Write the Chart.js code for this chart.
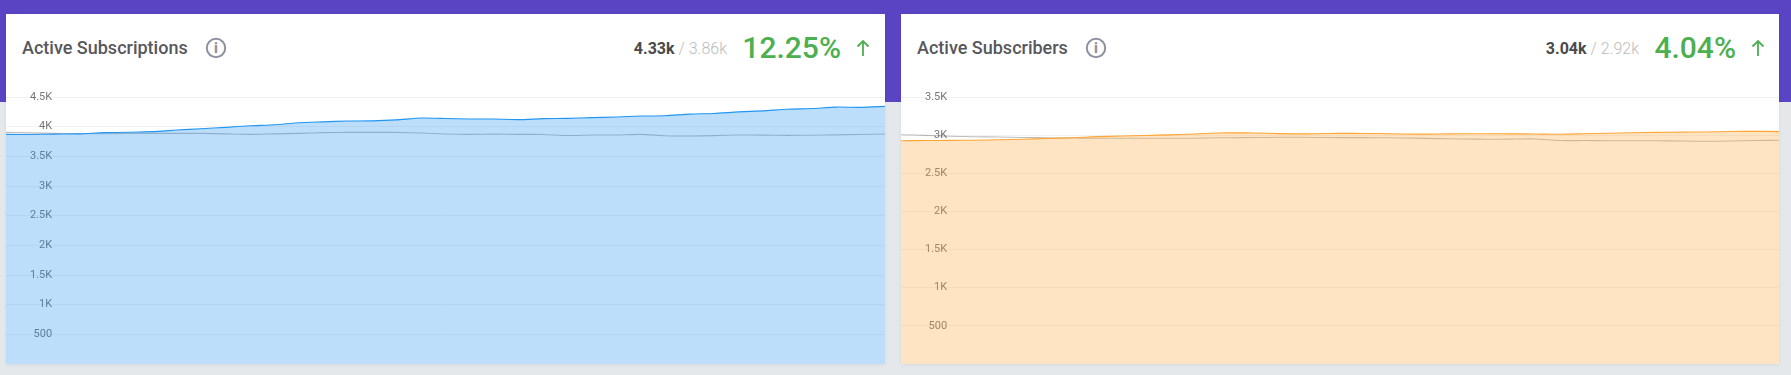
<!DOCTYPE html>
<html><head><meta charset="utf-8">
<script src="https://cdn.jsdelivr.net/npm/chart.js@4/dist/chart.umd.min.js"></script>
<style>
html,body{margin:0;padding:0;width:1791px;height:375px;overflow:hidden;background:#e4e8eb;font-family:Roboto,sans-serif}
#band{position:absolute;left:0;top:0;width:1791px;height:102px;background:#5a44c4}
.card{position:absolute;top:14px;height:350px;background:#fff;box-shadow:0 1px 4px rgba(0,0,0,.06)}
.title{position:absolute;left:16px;top:24px;font-size:18px;line-height:20px;font-weight:500;color:#57575c;white-space:nowrap}
.info{position:absolute;top:23px;width:22px;height:22px}
.nums{position:absolute;top:25px;font-size:16px;line-height:20px;white-space:nowrap;color:#bbb;font-weight:300}
.nums b{color:#4a4a4a;font-weight:700}
.pct{position:absolute;top:14px;font-size:30px;line-height:40px;font-weight:500;color:#4caf50;white-space:nowrap}
.arrow{position:absolute;top:25px;width:14px;height:18px}
canvas{position:absolute;left:0;top:71px}
</style></head><body>
<div id="band"></div>
<div class="card" style="left:6px;width:879px">
  <div class="title">Active Subscriptions</div>
  <svg class="info" style="left:199px" viewBox="0 0 22 22"><circle cx="11" cy="11" r="9.2" fill="none" stroke="#8f91a1" stroke-width="2"/><text x="11" y="16" text-anchor="middle" font-family="Roboto" font-weight="900" font-size="14" fill="#8f91a1">i</text></svg>
  <div class="nums" style="right:158px"><b>4.33k</b> / 3.86k</div>
  <div class="pct" style="right:44px">12.25%</div>
  <svg class="arrow" style="right:15px" viewBox="0 0 14 18"><path d="M7 17V2M1.5 7.5L7 2l5.5 5.5" fill="none" stroke="#4caf50" stroke-width="1.8"/></svg>
  <canvas id="c1"></canvas>
</div>
<div class="card" style="left:901px;width:878px">
  <div class="title">Active Subscribers</div>
  <svg class="info" style="left:184px" viewBox="0 0 22 22"><circle cx="11" cy="11" r="9.2" fill="none" stroke="#8f91a1" stroke-width="2"/><text x="11" y="16" text-anchor="middle" font-family="Roboto" font-weight="900" font-size="14" fill="#8f91a1">i</text></svg>
  <div class="nums" style="right:140px"><b>3.04k</b> / 2.92k</div>
  <div class="pct" style="right:43px">4.04%</div>
  <svg class="arrow" style="right:14px" viewBox="0 0 14 18"><path d="M7 17V2M1.5 7.5L7 2l5.5 5.5" fill="none" stroke="#4caf50" stroke-width="1.8"/></svg>
  <canvas id="c2"></canvas>
</div>
<script>
const periods = Array.from({length:37},(_, i)=>'P'+(i+1));
const subscriptionsCurrent = [3870,3869,3875,3879,3899,3906,3916,3943,3966,3988,4015,4032,4067,4081,4095,4098,4115,4145,4138,4128,4128,4118,4135,4140,4152,4162,4179,4184,4212,4222,4249,4266,4293,4305,4330,4325,4342];
const subscriptionsPrevious = [3904,3896,3887,3882,3881,3884,3887,3887,3887,3879,3870,3879,3887,3899,3904,3904,3904,3892,3876,3870,3876,3870,3869,3850,3859,3859,3870,3847,3842,3849,3859,3857,3854,3856,3862,3869,3876];
const subscribersCurrent = [2927,2929,2931,2934,2939,2947,2956,2965,2980,2988,2996,3004,3015,3028,3031,3024,3017,3018,3024,3022,3019,3013,3015,3018,3019,3017,3015,3011,3019,3024,3032,3036,3039,3042,3047,3051,3046];
const subscribersPrevious = [3006,2997,2986,2979,2975,2970,2965,2962,2959,2959,2959,2959,2959,2965,2967,2970,2973,2970,2968,2967,2965,2961,2955,2950,2946,2948,2950,2929,2929,2927,2927,2926,2923,2919,2923,2929,2933];
const subscriptionsMax = 4500;
const subscribersMax = 3500;

function draw(id, w, cur, prev, line, fill, max){
  const el = document.getElementById(id);
  el.width = w; el.height = 279; el.style.width = w+'px'; el.style.height = '279px';
  new Chart(el, {
    type:'line',
    data:{labels:periods, datasets:[
      {data:cur, borderColor:line, backgroundColor:fill, borderWidth:1.1, fill:'origin', pointRadius:0, tension:0.2},
      {data:prev, borderColor:'rgba(0,0,0,0.26)', borderWidth:1.1, fill:false, pointRadius:0, tension:0.2}
    ]},
    options:{
      responsive:false, animation:false, events:[],
      layout:{padding:{top:12,left:0,right:0,bottom:0}},
      plugins:{legend:{display:false},tooltip:{enabled:false}},
      scales:{
        x:{display:false, offset:false},
        y:{min:0,max:max,
          border:{display:false},
          grid:{color:'rgba(0,0,0,0.05)',drawTicks:false},
          afterFit:s=>{s.width=0;s.paddingTop=0;s.paddingBottom=0;},
          ticks:{stepSize:500,mirror:true,crossAlign:'far',padding:24,color:'#777',
            font:{family:'Roboto',size:11},
            callback:v=>v===0?'':(v>=1000?(v/1000)+'K':String(v))}
        }
      }
    }
  });
}
draw('c1',879,subscriptionsCurrent,subscriptionsPrevious,'#2196f3','rgba(33,147,240,0.3)',subscriptionsMax);
draw('c2',878,subscribersCurrent,subscribersPrevious,'#ffa533','rgba(252,165,55,0.3)',subscribersMax);
</script>
</body></html>
